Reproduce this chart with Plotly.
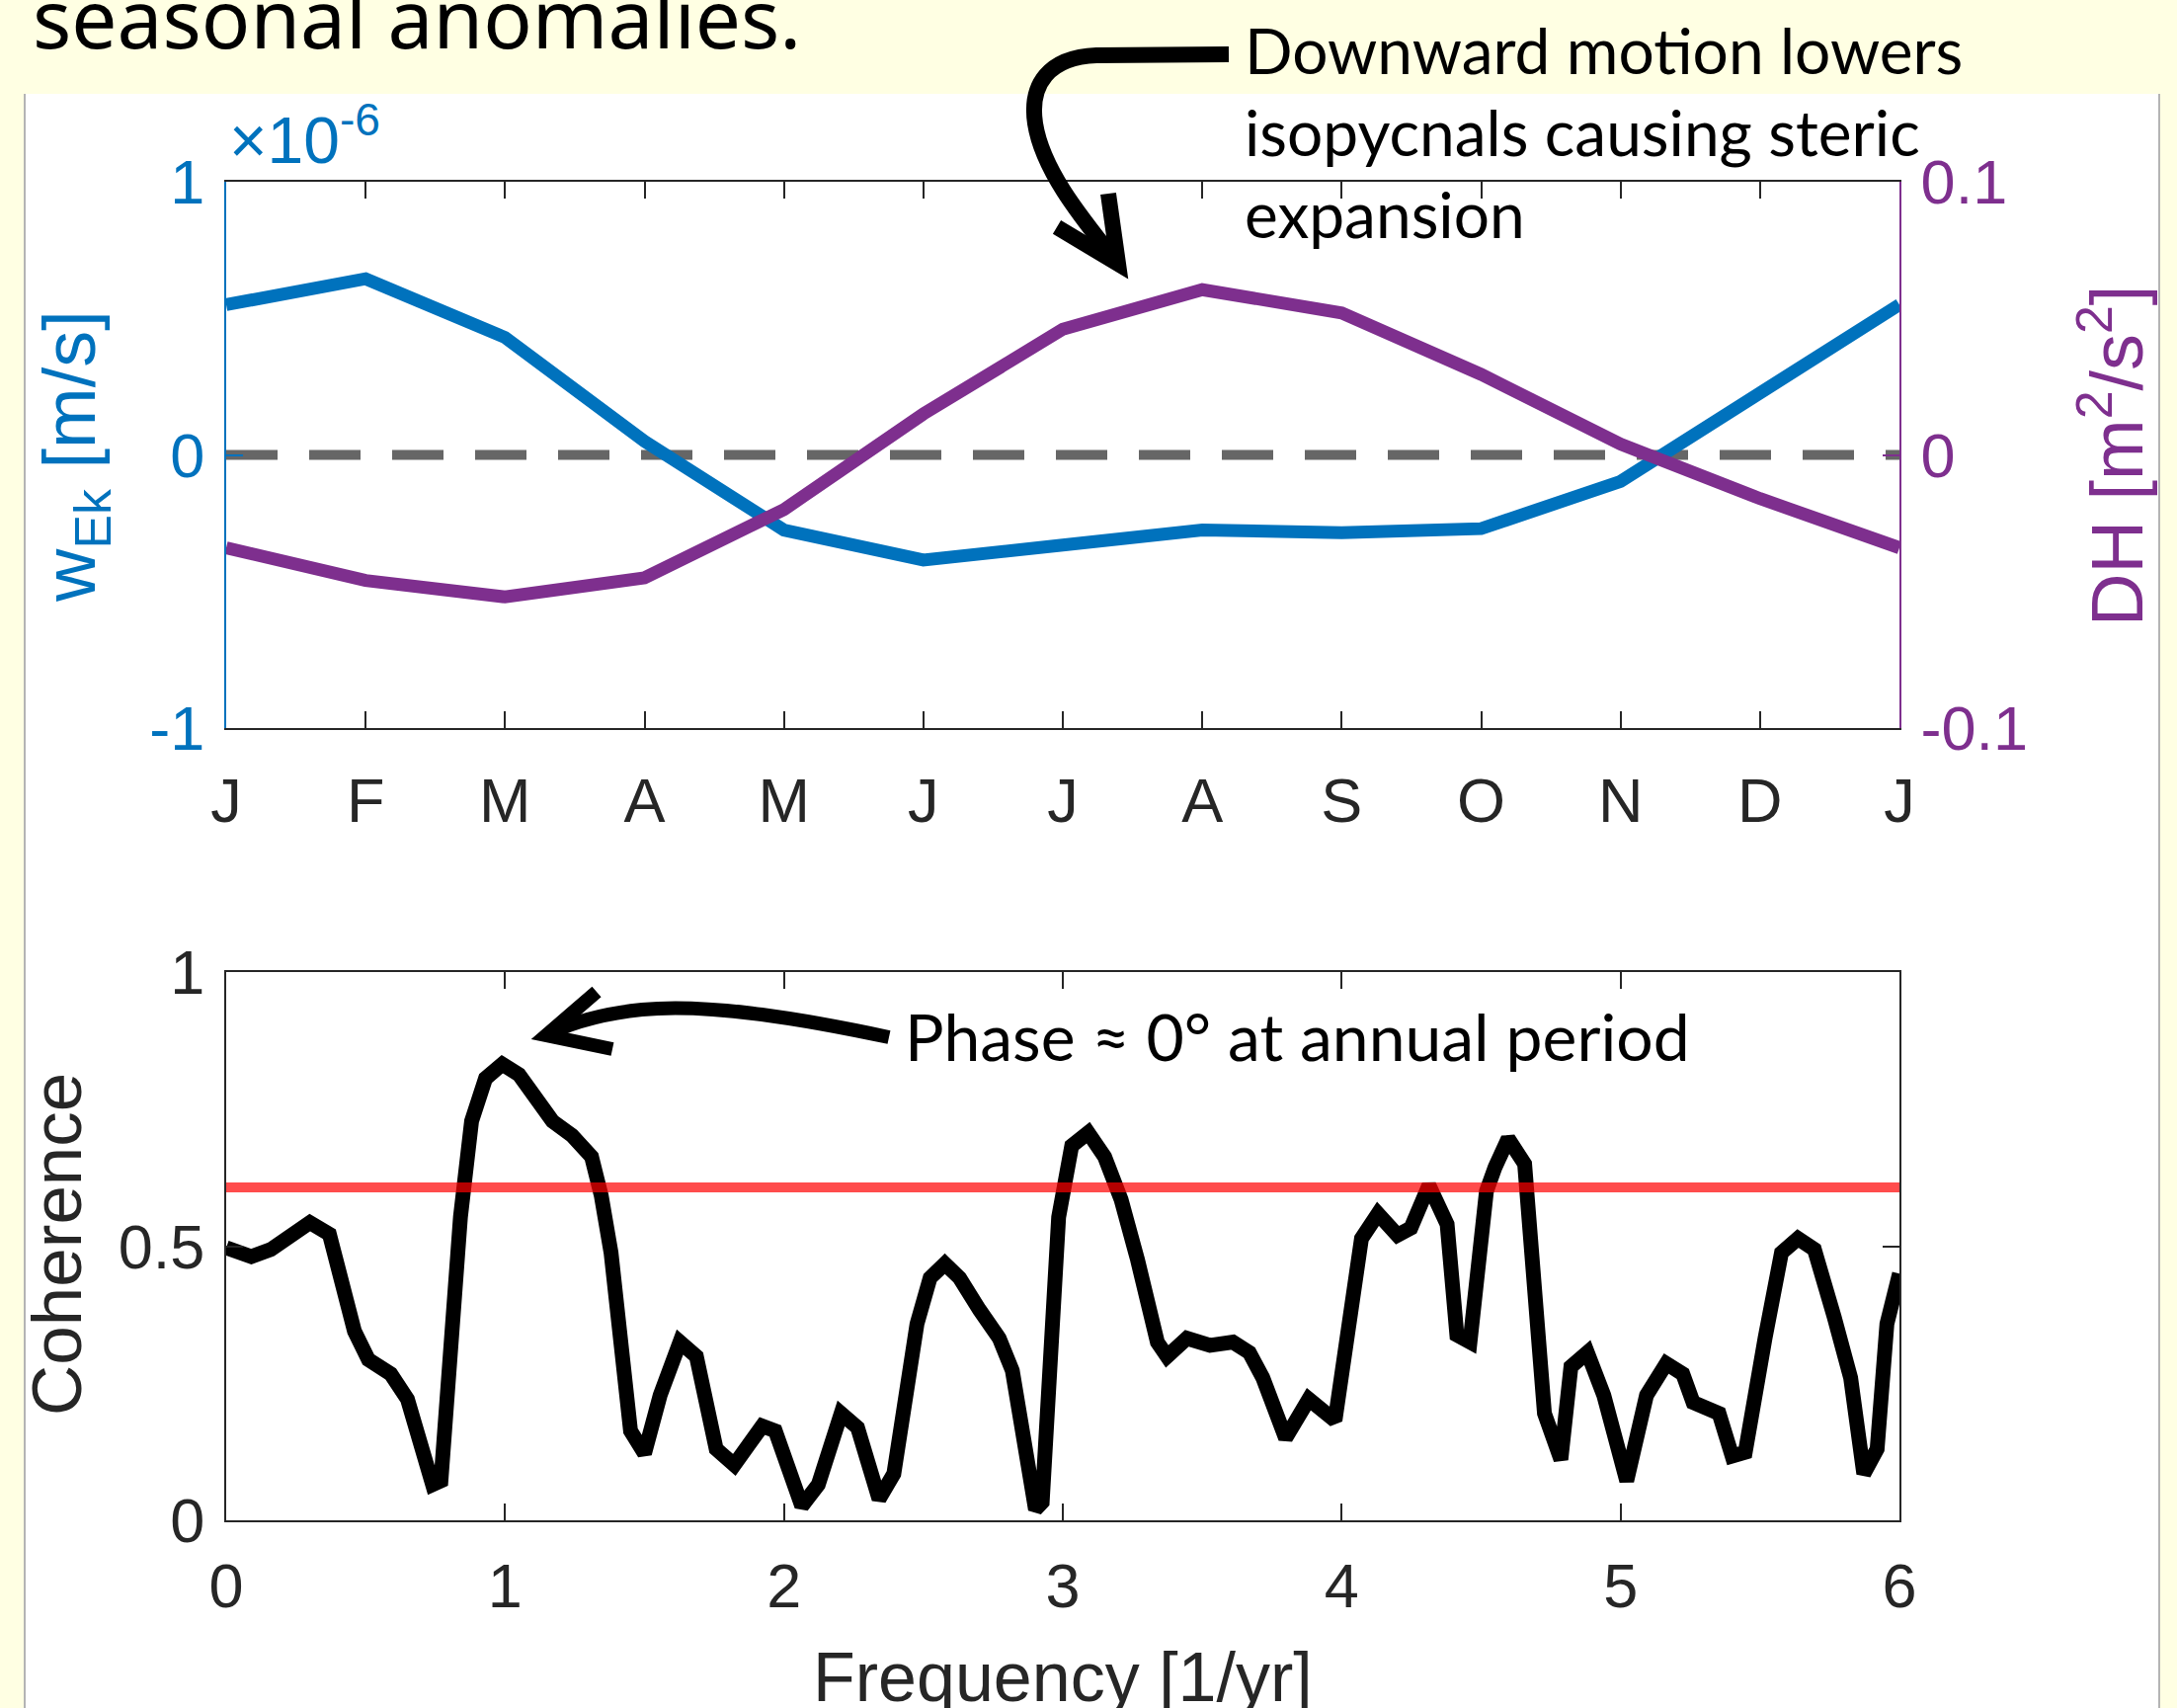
import plotly.graph_objects as go

W, H = 2204, 1729

# ---------------- data ----------------
months = ["J", "F", "M", "A", "M", "J", "J", "A", "S", "O", "N", "D", "J"]
month_pos = list(range(13))
w_ek = [0.55e-6, 0.645e-6, 0.43e-6, 0.05e-6, -0.275e-6, -0.385e-6, -0.33e-6,
        -0.275e-6, -0.285e-6, -0.27e-6, -0.097e-6, 0.23e-6, 0.55e-6]
dh = [-0.034, -0.046, -0.052, -0.045, -0.020, 0.015, 0.046,
      0.0605, 0.052, 0.0295, 0.004, -0.016, -0.034]

freq = [0.0, 0.09, 0.16, 0.30, 0.37, 0.46, 0.51, 0.59, 0.65, 0.74, 0.77, 0.84, 0.88,
        0.93, 0.99, 1.05, 1.17, 1.24, 1.31, 1.345, 1.38, 1.45, 1.50, 1.556, 1.627,
        1.686, 1.757, 1.822, 1.922, 1.969, 2.064, 2.123, 2.205, 2.264, 2.341, 2.394,
        2.477, 2.524, 2.577, 2.630, 2.701, 2.772, 2.819, 2.902, 2.926, 2.985, 3.032,
        3.091, 3.15, 3.209, 3.268, 3.339, 3.374, 3.445, 3.528, 3.61, 3.669, 3.717,
        3.799, 3.882, 3.976, 4.012, 4.071, 4.13, 4.2, 4.248, 4.313, 4.378, 4.413,
        4.46, 4.519, 4.55, 4.597, 4.656, 4.727, 4.786, 4.822, 4.881, 4.94, 5.022,
        5.093, 5.164, 5.223, 5.26, 5.306, 5.353, 5.40, 5.447, 5.518, 5.577, 5.636,
        5.695, 5.766, 5.825, 5.872, 5.92, 5.955, 6.0]
coherence = [0.497, 0.481, 0.494, 0.543, 0.522, 0.345, 0.293, 0.267, 0.221, 0.065, 0.072,
             0.553, 0.728, 0.806, 0.832, 0.813, 0.728, 0.702, 0.663, 0.592, 0.488, 0.163,
             0.122, 0.228, 0.325, 0.299, 0.130, 0.101, 0.172, 0.163, 0.026, 0.065, 0.195,
             0.169, 0.039, 0.085, 0.358, 0.442, 0.468, 0.442, 0.384, 0.332, 0.273, 0.020,
             0.033, 0.553, 0.683, 0.707, 0.663, 0.585, 0.475, 0.325, 0.299, 0.332, 0.319,
             0.325, 0.306, 0.260, 0.150, 0.221, 0.182, 0.293, 0.514, 0.559, 0.520, 0.533,
             0.611, 0.540, 0.338, 0.325, 0.600, 0.644, 0.696, 0.650, 0.195, 0.111, 0.280,
             0.306, 0.228, 0.072, 0.228, 0.286, 0.267, 0.215, 0.202, 0.195, 0.117, 0.124,
             0.332, 0.488, 0.514, 0.494, 0.371, 0.260, 0.085, 0.130, 0.358, 0.45]
threshold = 0.607

freq_ticks = [0, 1, 2, 3, 4, 5, 6]
coh_ticks = [0, 0.5, 1]
wek_ticks = [-1e-6, 0, 1e-6]
wek_ticktext = ["-1", "0", "1"]
dh_ticks = [-0.1, 0, 0.1]
dh_ticktext = ["-0.1", "0", "0.1"]

# ---------------- styles ----------------
BLUE = "#0072BD"
PURPLE = "#7E2F8E"
DARK = "#262626"
YELLOW = "#FFFFE3"
TICKFONT = "Liberation Sans, Arial, Helvetica, sans-serif"
COMIC = "Lato, Noto Sans, sans-serif"


def fx(px):
    return px / W


def fy(py):
    return 1 - py / H


def P(x, y):
    return f"{fx(x):.5f},{fy(y):.5f}"


fig = go.Figure()

# zero line
fig.add_trace(go.Scatter(x=[month_pos[0], month_pos[-1]], y=[0, 0], mode="lines",
                         line=dict(color="#666666", width=10, dash="52px,32px"),
                         xaxis="x", yaxis="y", showlegend=False, hoverinfo="skip"))
fig.add_trace(go.Scatter(x=month_pos, y=w_ek, mode="lines",
                         line=dict(color=BLUE, width=13),
                         xaxis="x", yaxis="y", showlegend=False))
fig.add_trace(go.Scatter(x=month_pos, y=dh, mode="lines",
                         line=dict(color=PURPLE, width=13),
                         xaxis="x", yaxis="y2", showlegend=False))

fig.add_trace(go.Scatter(x=freq, y=coherence, mode="lines",
                         line=dict(color="black", width=15),
                         xaxis="x2", yaxis="y3", showlegend=False))
fig.add_trace(go.Scatter(x=[freq_ticks[0], freq_ticks[-1]], y=[threshold, threshold],
                         mode="lines", line=dict(color="rgba(255,0,0,0.7)", width=10),
                         xaxis="x2", yaxis="y3", showlegend=False))

xdom = [fx(229), fx(1923)]
top_dom = [fy(737), fy(184)]
bot_dom = [fy(1539), fy(984)]

axis_common = dict(showgrid=False, zeroline=False, showline=True, linewidth=2,
                   ticks="inside", ticklen=17, tickwidth=2, automargin=False)

fig.update_layout(
    template="none",
    width=W, height=H,
    margin=dict(l=0, r=0, t=0, b=0, pad=0, autoexpand=False),
    paper_bgcolor="white", plot_bgcolor="white",
    xaxis=dict(domain=xdom, range=[0, 12], anchor="y", tickvals=month_pos, ticktext=months,
               linecolor=DARK, tickcolor=DARK, mirror="ticks",
               tickfont=dict(family=TICKFONT, size=63, color=DARK),
               ticklabelstandoff=17, **axis_common),
    yaxis=dict(domain=top_dom, range=[-1e-6, 1e-6], anchor="x", tickvals=wek_ticks,
               ticktext=wek_ticktext, linecolor=BLUE, tickcolor=BLUE,
               tickfont=dict(family=TICKFONT, size=63, color=BLUE),
               ticklabelstandoff=7, **axis_common),
    yaxis2=dict(range=[-0.1, 0.1], overlaying="y", side="right", anchor="x",
                tickvals=dh_ticks, ticktext=dh_ticktext, linecolor=PURPLE, tickcolor=PURPLE,
                tickfont=dict(family=TICKFONT, size=63, color=PURPLE),
                ticklabelstandoff=7, **axis_common),
    xaxis2=dict(domain=xdom, range=[0, 6], anchor="y3", tickvals=freq_ticks,
                linecolor=DARK, tickcolor=DARK, mirror="ticks",
                tickfont=dict(family=TICKFONT, size=63, color=DARK),
                ticklabelstandoff=10, **axis_common),
    yaxis3=dict(domain=bot_dom, range=[0, 1], anchor="x2", tickvals=coh_ticks,
                ticktext=["0", "0.5", "1"],
                linecolor=DARK, tickcolor=DARK, mirror="ticks",
                tickfont=dict(family=TICKFONT, size=63, color=DARK),
                ticklabelstandoff=7, **axis_common),
)

shapes = [
    # cream background strips
    dict(type="rect", xref="paper", yref="paper", x0=0, x1=1, y0=fy(95), y1=1,
         fillcolor=YELLOW, line=dict(width=0), layer="below"),
    dict(type="rect", xref="paper", yref="paper", x0=0, x1=fx(25), y0=0, y1=1,
         fillcolor=YELLOW, line=dict(width=0), layer="below"),
    dict(type="rect", xref="paper", yref="paper", x0=fx(2186), x1=1, y0=0, y1=1,
         fillcolor=YELLOW, line=dict(width=0), layer="below"),
    dict(type="line", xref="paper", yref="paper", x0=fx(25), x1=fx(25), y0=0, y1=fy(95),
         line=dict(color="#B4B4B4", width=2), layer="below"),
    dict(type="line", xref="paper", yref="paper", x0=fx(2186), x1=fx(2186), y0=0, y1=fy(95),
         line=dict(color="#B4B4B4", width=2), layer="below"),
    # hand-drawn arrow, top
    dict(type="path", xref="paper", yref="paper", layer="above",
         path=(f"M {P(1244,55)} L {P(1110,56)} C {P(1062,58)} {P(1042,85)} {P(1048,125)} "
               f"C {P(1055,170)} {P(1090,215)} {P(1132,267)}"),
         line=dict(color="black", width=16)),
    dict(type="path", xref="paper", yref="paper", layer="above",
         path=f"M {P(1122,196)} L {P(1132,267)} L {P(1070,230)}",
         line=dict(color="black", width=16)),
    # hand-drawn arrow, bottom
    dict(type="path", xref="paper", yref="paper", layer="above",
         path=(f"M {P(900,1050)} C {P(820,1033)} {P(720,1015)} {P(650,1022)} "
               f"C {P(610,1026)} {P(580,1035)} {P(556,1046)}"),
         line=dict(color="black", width=14)),
    dict(type="path", xref="paper", yref="paper", layer="above",
         path=f"M {P(604,1004)} L {P(553,1048)} L {P(620,1062)}",
         line=dict(color="black", width=14)),
]
fig.update_layout(shapes=shapes)

annotations = [
    dict(text="seasonal anomalies.", x=fx(31), y=fy(17), xanchor="left", yanchor="middle",
         font=dict(family="Noto Sans, Open Sans, sans-serif", size=82, color="black")),
    dict(text="Downward motion lowers<br>isopycnals causing steric<br>expansion",
         x=fx(1258), y=fy(134), xanchor="left", yanchor="middle", align="left",
         font=dict(family=COMIC, size=64, color="black")),
    dict(text="Phase ≈ 0° at annual period", x=fx(914), y=fy(1048), xanchor="left",
         yanchor="middle", font=dict(family=COMIC, size=66, color="black")),
    dict(text="×10<sup>-6</sup>", x=fx(230), y=fy(181), xanchor="left", yanchor="bottom",
         font=dict(family=TICKFONT, size=66, color=BLUE)),
    dict(text="w<sub>Ek</sub> [m/s]", x=fx(76), y=fy(462), textangle=-90,
         xanchor="center", yanchor="middle",
         font=dict(family=TICKFONT, size=74, color=BLUE)),
    dict(text="DH [m<sup>2</sup>/s<sup>2</sup>]", x=fx(2138), y=fy(462), textangle=-90,
         xanchor="center", yanchor="middle",
         font=dict(family=TICKFONT, size=74, color=PURPLE)),
    dict(text="Coherence", x=fx(57), y=fy(1260), textangle=-90,
         xanchor="center", yanchor="middle",
         font=dict(family=TICKFONT, size=71, color=DARK)),
    dict(text="Frequency [1/yr]", x=fx(1076), y=fy(1698), xanchor="center", yanchor="middle",
         font=dict(family=TICKFONT, size=70, color=DARK)),
]
for a in annotations:
    a.update(xref="paper", yref="paper", showarrow=False)
fig.update_layout(annotations=annotations)

fig.write_html("out.html", config={"displayModeBar": False},
               post_script="document.body.style.margin='0';document.body.style.overflow='hidden';")
